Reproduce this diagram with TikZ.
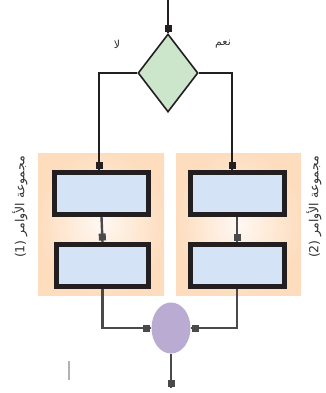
\documentclass[tikz,border=0pt]{standalone}
\usepackage{fontspec}
\TeXXeTstate=1
\newfontfamily\arabicfont[Script=Arabic]{DejaVu Sans}
\usetikzlibrary{shapes.geometric,decorations.markings}
\definecolor{dgreen}{HTML}{CCE6CC}
\definecolor{lblue}{HTML}{D4E3F5}
\definecolor{peach}{HTML}{FDDDBE}
\definecolor{lpurple}{HTML}{BAABD3}
\definecolor{ink}{HTML}{231F20}
\definecolor{gline}{HTML}{4A4A4A}
\tikzset{
  sqmark/.style={postaction={decorate},decoration={markings,
     mark=at position -5pt with {\fill[#1] (-3.5pt,-3.5pt) rectangle (3.5pt,3.5pt);}}},
  conn/.style={line width=2.4pt,draw=#1,sqmark=#1},
  panel/.style={rectangle,inner sep=0pt,inner color=peach!20,outer color=peach},
  stepbox/.style={rectangle,draw=ink,line width=5pt,fill=lblue,inner sep=0pt,
     minimum width=94pt,minimum height=42pt},
  lab/.style={font=\arabicfont\fontsize{11pt}{12pt}\selectfont,inner sep=0pt,text=black!80},
  sidelab/.style={font=\arabicfont\fontsize{12.5pt}{13pt}\selectfont,inner sep=0pt,text=black!80},
}
\begin{document}
\begin{tikzpicture}[x=1pt,y=-1pt]
\useasboundingbox[fill=white] (0,0) rectangle (326,393);
% panels
\node[panel,minimum width=126pt,minimum height=142pt] (pl) at (101,224) {};
\node[panel,minimum width=125pt,minimum height=142pt] (pr) at (238.5,224) {};
% decision
\node[diamond,draw=ink,line width=1.6pt,fill=dgreen,inner sep=0pt,
      minimum width=60pt,minimum height=78pt] (d) at (168,73) {};
% boxes
\node[stepbox] (bl1) at (101.5,193.5) {};
\node[stepbox,minimum width=92pt] (bl2) at (102.5,265.5) {};
\node[stepbox] (br1) at (237,193.5) {};
\node[stepbox] (br2) at (237,265.5) {};
% join
\node[ellipse,fill=lpurple,inner sep=0pt,minimum width=39pt,minimum height=51pt] (c) at (171,328) {};
\coordinate (top) at (168,0);
\coordinate (out) at (171,388);
% connectors
\draw[conn=ink] (top) -- (d.north);
\draw[conn=ink] (d.west) -| ([xshift=-2.5pt]bl1.north);
\draw[conn=ink] (d.east) -| ([xshift=-5pt]br1.north);
\draw[conn=gline] (bl1.south) -- (bl2.north);
\draw[conn=gline] (br1.south) -- (br2.north);
\draw[conn=gline] (bl2.south) |- (c.west);
\draw[conn=gline] (br2.south) |- (c.east);
\draw[conn=gline] (c.south) -- (out);
% labels
\node[lab] (no) at (117,44) {\beginR لا\endR};
\node[lab] (yes) at (223,44) {\beginR نعم\endR};
\node[sidelab,rotate=90] (gl) at (20,207) {\beginR مجموعة الأوامر \beginL(1)\endL\endR};
\node[sidelab,rotate=90] (gr) at (314,207) {\beginR مجموعة الأوامر \beginL(2)\endL\endR};
% faint mark
\coordinate (g1) at (69,361);
\coordinate (g2) at (69,380);
\draw[line width=1.4pt,draw=black!30] (g1) -- (g2);
\end{tikzpicture}
\end{document}
